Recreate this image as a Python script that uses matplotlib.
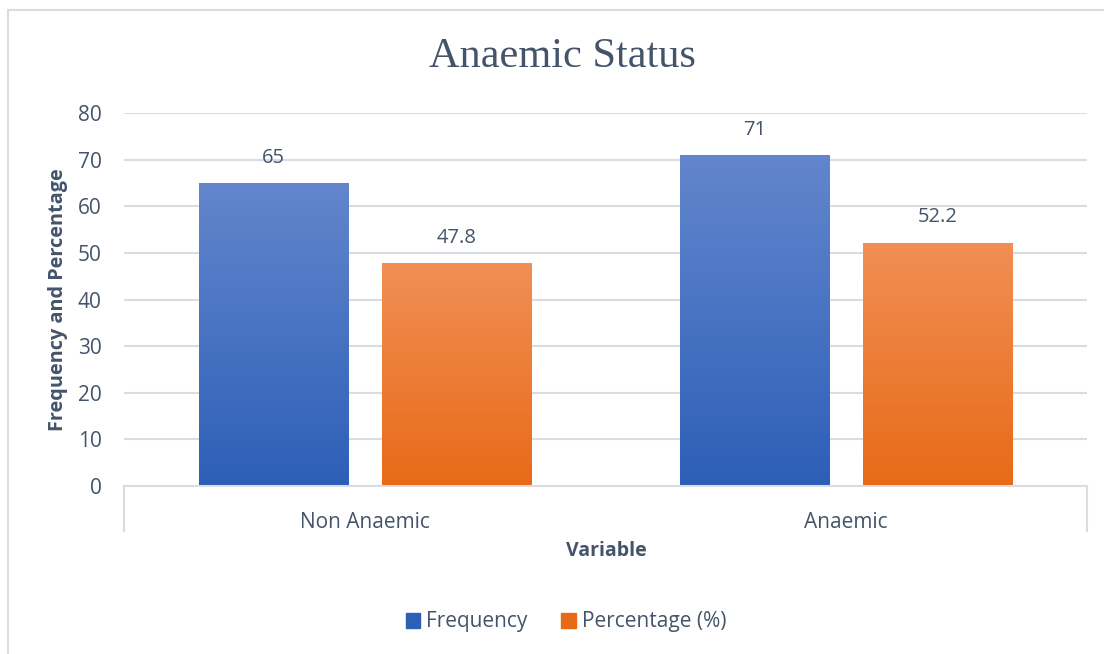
import numpy as np
import matplotlib
matplotlib.use("Agg")
import matplotlib.pyplot as plt
from matplotlib.patches import Rectangle
from matplotlib.colors import LinearSegmentedColormap

categories = ["Non Anaemic", "Anaemic"]
frequency = [65, 71]
percentage = [47.8, 52.2]
series_names = ["Frequency", "Percentage (%)"]
y_ticks = [0, 10, 20, 30, 40, 50, 60, 70, 80]

TEXT = "#44546A"
GRID = "#D9DDE3"
blue_grad = ("#6386CD", "#2D5FB7")     # top, bottom
orange_grad = ("#F18F55", "#E86A17")
FONT = "Open Sans"

W, H = 1104, 654
fig = plt.figure(figsize=(W / 100, H / 100), dpi=100)

def fx(px):
    return px / W

def fy(py):
    return 1 - py / H

# outer chart frame (top and left edges visible)
fig.add_artist(plt.Line2D([fx(8), fx(8)], [fy(10), 0], color=GRID, lw=1.5))
fig.add_artist(plt.Line2D([fx(8), 1], [fy(10), fy(10)], color=GRID, lw=1.5))

left, right, top, bottom = 124, 1087, 113, 486
ax = fig.add_axes([fx(left), fy(bottom), fx(right - left), (bottom - top) / H])

x = np.arange(len(categories))
width = 0.31
offset = 0.19

def gradient_bars(xs, vals, grad):
    cmap = LinearSegmentedColormap.from_list("g", [grad[1], grad[0]])
    bars = ax.bar(xs, vals, width, color=grad[0], zorder=2)
    for b in bars:
        b.set_alpha(0)
        x0, y0 = b.get_x(), b.get_y()
        w, h = b.get_width(), b.get_height()
        img = ax.imshow(np.linspace(0, 1, 256).reshape(-1, 1), cmap=cmap,
                        origin="lower", aspect="auto",
                        extent=[x0, x0 + w, y0, y0 + h], zorder=2)
        clip = Rectangle((x0, y0), w, h, transform=ax.transData)
        img.set_clip_path(clip)
    return bars

b1 = gradient_bars(x - offset, frequency, blue_grad)
b2 = gradient_bars(x + offset, percentage, orange_grad)

for xs, vals in ((x - offset, frequency), (x + offset, percentage)):
    for xi, v in zip(xs, vals):
        ax.annotate(f"{v:g}", (xi, v), xytext=(0, 11), textcoords="offset points",
                    ha="center", va="bottom", fontsize=14.5, color=TEXT,
                    family=FONT)

ax.set_xlim(-0.5, len(categories) - 0.5)
ax.set_ylim(0, 80)
ax.set_yticks(y_ticks)
ax.yaxis.grid(True, color=GRID, lw=1.5, zorder=0)
ax.set_axisbelow(True)
for s in ("top", "right", "left"):
    ax.spines[s].set_visible(False)
ax.spines["bottom"].set_color(GRID)
ax.spines["bottom"].set_linewidth(1.5)
ax.tick_params(axis="y", length=0, pad=16, labelsize=15, labelcolor=TEXT)
ax.tick_params(axis="x", length=0)
ax.set_xticks(x)
ax.set_xticklabels([])
for lab in ax.get_yticklabels():
    lab.set_family(FONT)

# category box edges under the axis
for px in (left, right):
    fig.add_artist(plt.Line2D([fx(px), fx(px)], [fy(bottom), fy(531)],
                              color=GRID, lw=1.5))
for xi, name in zip(x, categories):
    ax.annotate(name, (xi, 0), xytext=(0, -19), textcoords="offset points",
                xycoords=("data", "axes fraction"), ha="center", va="top",
                fontsize=15, color=TEXT, family=FONT,
                annotation_clip=False)

fig.text(fx(606), fy(551), "Variable", ha="center", va="center",
         fontsize=14, fontweight="bold", color=TEXT, family=FONT)
fig.text(fx(58), fy(300), "Frequency and Percentage", ha="center", va="center",
         rotation=90, fontsize=14.3, fontweight="bold", color=TEXT,
         family=FONT)
fig.text(fx(562), fy(57), "Anaemic Status", ha="center", va="center",
         fontsize=30.5, color=TEXT, family="Liberation Serif")

handles = [Rectangle((0, 0), 1, 1, color=blue_grad[1]),
           Rectangle((0, 0), 1, 1, color=orange_grad[1])]
leg = fig.legend(handles, series_names, loc="center", ncol=2,
                 bbox_to_anchor=(fx(566), fy(622)), frameon=False,
                 handlelength=0.7, handleheight=0.7, handletextpad=0.3,
                 columnspacing=1.6, prop={"family": FONT, "size": 15})
for t in leg.get_texts():
    t.set_color(TEXT)

fig.savefig("out.png", dpi=100)
